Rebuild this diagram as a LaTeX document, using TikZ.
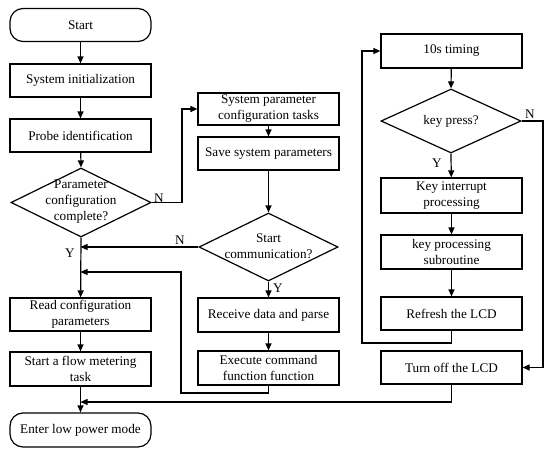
\documentclass[tikz,border=0pt]{standalone}
\usepackage{fontspec}
\setmainfont{Liberation Serif}
\usetikzlibrary{shapes.geometric,arrows.meta}
\begin{document}
\begin{tikzpicture}[x=1pt,y=-1pt,
  font=\fontsize{13.2}{16}\selectfont,
  every path/.style={line width=1.2pt},
  box/.style={draw, rectangle, minimum width=141pt, minimum height=33pt, inner sep=0pt, align=center, line width=1.2pt},
  term/.style={box, rounded corners=13pt},
  dia/.style={draw, diamond, inner sep=0pt, line width=1.2pt},
  dtext/.style={align=center, inner sep=0pt},
  arr/.style={-{Triangle[length=7pt,width=6pt]}},
  lab/.style={inner sep=0pt}]
\useasboundingbox (0,0) rectangle (550,455);
% left column
\node[term] (start) at (80.5,25) {Start};
\node[box] (init) at (80.5,80.5) {System initialization};
\node[box] (probe) at (80.5,135.5) {Probe identification};
\node[dia, minimum width=140pt, minimum height=69pt] (d1) at (81,202.5) {};
\node[dtext] (d1t) at (81,202) {Parameter\\configuration\\complete?};
\node[box] (read) at (80.5,314.5) {Read configuration\\parameters};
\node[box, minimum height=34pt] (flow) at (80.5,369) {Start a flow metering\\task};
\node[term, minimum height=34pt] (low) at (80.5,430) {Enter low power mode};
% middle column
\node[box, minimum height=32pt] (spt) at (268.5,109) {System parameter\\configuration tasks};
\node[box] (save) at (268.5,153.5) {Save system parameters};
\node[dia, minimum width=139pt, minimum height=68pt] (d2) at (268.5,247) {};
\node[dtext] (d2t) at (268.5,246) {Start\\communication?};
\node[box, minimum height=34pt] (recv) at (268.5,315) {Receive data and parse};
\node[box, minimum height=34pt] (exec) at (268.5,368) {Execute command\\function function};
% right column
\node[box, minimum height=34pt] (tim) at (451.5,51) {10s timing};
\node[dia, minimum width=140pt, minimum height=64pt] (d3) at (451,121) {};
\node[dtext] (d3t) at (451,121) {key press?};
\node[box, minimum height=35pt] (kint) at (451.5,195.5) {Key interrupt\\processing};
\node[box, minimum height=34pt] (ksub) at (451.5,252) {key processing\\subroutine};
\node[box] (refr) at (451.5,313.5) {Refresh the LCD};
\node[box] (toff) at (451.5,367.5) {Turn off the LCD};
% helper coordinates
\coordinate (c1) at (182,202.5);
\coordinate (m1) at (80.5,247);
\coordinate (m2) at (80.5,272);
\coordinate (e1) at (268.5,393);
\coordinate (e2) at (181,393);
\coordinate (e3) at (181,272);
\coordinate (m3) at (80.5,402);
\coordinate (t1) at (451.5,402);
\coordinate (r1) at (451.5,343);
\coordinate (r2) at (362,343);
\coordinate (k1) at (543,121);
% left connectors
\draw[arr] (start) -- (init);
\draw[arr] (init) -- (probe);
\draw[arr] (probe) -- (d1.north);
\draw[arr] (d1.south) -- (read);
\draw[arr] (read) -- (flow);
\draw[arr] (flow) -- (low);
\draw[arr] (d1.east) -- (c1) |- (spt.west);
% middle connectors
\draw[arr] (spt) -- (save);
\draw[arr] (save) -- (d2.north);
\draw[arr] (d2.west) -- (m1);
\draw[arr] (d2.south) -- (recv);
\draw[arr] (recv) -- (exec);
\draw[arr] (exec.south) -- (e1) -- (e2) -- (e3) -- (m2);
% right connectors
\draw[arr] (tim) -- (d3.north);
\draw[arr] (d3.south) -- (kint);
\draw[arr] (kint) -- (ksub);
\draw[arr] (ksub) -- (refr);
\draw[arr] (refr.south) -- (r1) -- (r2) |- (tim.west);
\draw[arr] (d3.east) -- (k1) |- (toff.east);
\draw[arr] (toff.south) -- (t1) -- (m3);
% labels
\node[lab] (n1) at (159,198) {N};
\node[lab] (y1) at (70,253) {Y};
\node[lab] (n2) at (180,240) {N};
\node[lab] (y2) at (278,288) {Y};
\node[lab] (n3) at (530,114) {N};
\node[lab] (y3) at (437,163) {Y};
\end{tikzpicture}
\end{document}
